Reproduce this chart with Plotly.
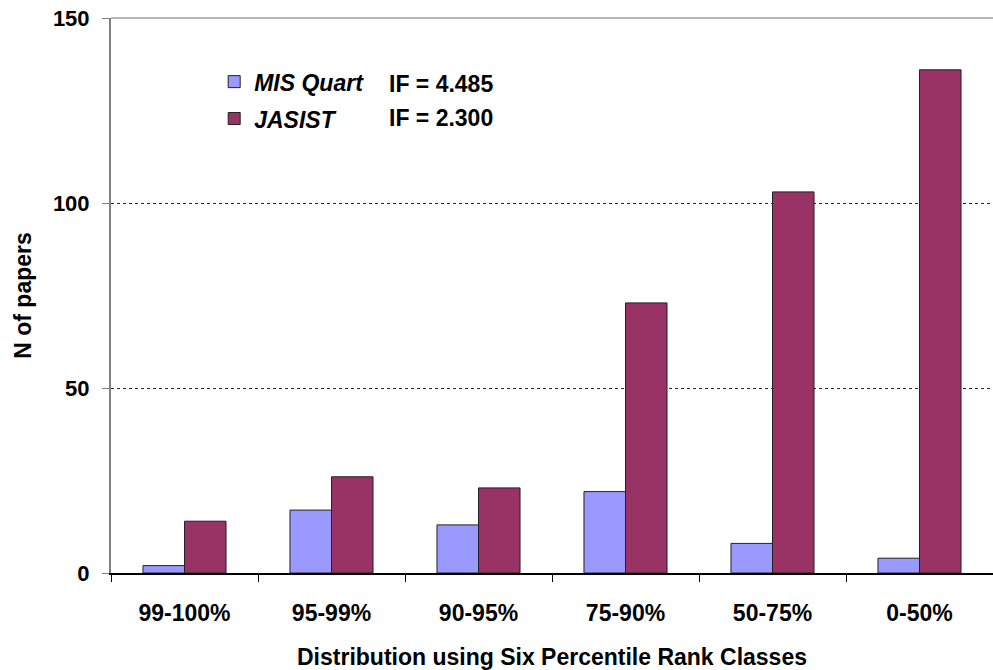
import plotly.graph_objects as go

categories = ["99-100%", "95-99%", "90-95%", "75-90%", "50-75%", "0-50%"]
mis_quart = [2, 17, 13, 22, 8, 4]
jasist = [14, 26, 23, 73, 103, 136]
series_names = ["MIS Quart", "JASIST"]
impact_labels = ["IF = 4.485", "IF = 2.300"]
y_ticks = [0, 50, 100, 150]

FONT = "Liberation Sans, Arial, sans-serif"

fig = go.Figure()
fig.add_trace(go.Bar(x=categories, y=mis_quart, name="<b><i>%s</i></b>" % series_names[0],
                     legendgroup="a",
                     marker=dict(color="#9999FF", line=dict(color="#222222", width=1))))
fig.add_trace(go.Bar(x=categories, y=jasist, name="<b><i>%s</i></b>" % series_names[1],
                     legendgroup="b",
                     marker=dict(color="#993366", line=dict(color="#222222", width=1))))

fig.update_layout(
    width=993, height=670,
    margin=dict(l=111, r=0, t=18, b=97, autoexpand=False),
    paper_bgcolor="white", plot_bgcolor="white",
    barmode="group", bargap=0.435, bargroupgap=0,
    font=dict(family=FONT, size=22, color="black"),
    showlegend=True,
    legend=dict(x=0.117, y=0.924, xanchor="left", yanchor="top",
                font=dict(family=FONT, size=23, color="black"),
                bgcolor="rgba(0,0,0,0)", tracegroupgap=4, itemwidth=30),
    xaxis=dict(
        type="category", showline=True, linecolor="black", linewidth=1.5,
        ticks="outside", ticklen=7, tickcolor="black", tickson="boundaries",
        tickfont=dict(family=FONT, size=23, color="black", weight="bold"),
        ticklabelstandoff=19, automargin=False, ticklabeloverflow="allow",
        title=dict(text="<b>Distribution using Six Percentile Rank Classes</b>",
                   font=dict(family=FONT, size=23), standoff=24),
        showgrid=False,
    ),
    yaxis=dict(
        range=[0, 150], tickvals=y_ticks, showline=True, linecolor="#808080", linewidth=2,
        ticks="outside", ticklen=7, tickcolor="#808080",
        tickfont=dict(family=FONT, size=22, color="black", weight="bold"),
        ticklabelstandoff=8, automargin=False, ticklabeloverflow="allow",
        title=dict(text="<b>N of papers</b>", font=dict(family=FONT, size=23), standoff=15),
        showgrid=True, gridcolor="#222222", gridwidth=1, griddash="3px,3px",
        zeroline=False,
    ),
)

# plot-area top border
fig.add_shape(type="line", xref="paper", yref="paper", x0=0, x1=1, y0=1, y1=1,
              line=dict(color="#A0A0A0", width=1.5), layer="above")

for i, txt in enumerate(impact_labels):
    fig.add_annotation(xref="paper", yref="y", x=0.313, y=132.2 - i * 9.2, xanchor="left",
                       text="<b>%s</b>" % txt, showarrow=False,
                       font=dict(family=FONT, size=23, color="black"))

fig.write_html("out.html", config={"displayModeBar": False},
               post_script="document.body.style.margin='0';document.body.style.overflow='hidden';")
